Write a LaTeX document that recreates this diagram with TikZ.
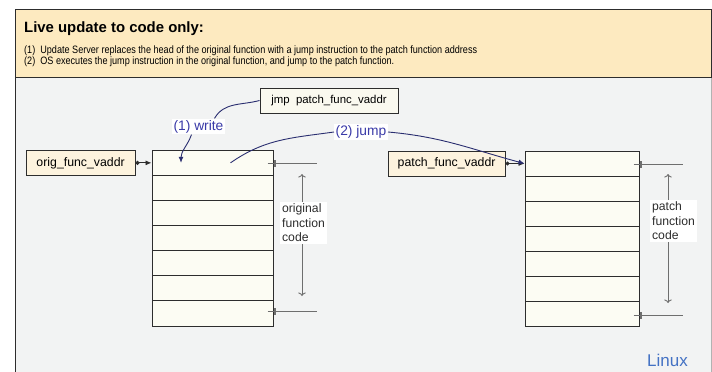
\documentclass[tikz,border=0pt]{standalone}
\usepackage{fontspec}
\setmainfont{Liberation Sans}
\newfontfamily\narrowsans[FakeStretch=0.85]{Liberation Sans}
\usetikzlibrary{positioning,arrows.meta}

\definecolor{bannerfill}{RGB}{253,234,192}
\definecolor{bodyfill}{RGB}{242,243,243}
\definecolor{framecol}{RGB}{45,45,45}
\definecolor{cellfill}{RGB}{252,252,243}
\definecolor{ptrfill}{RGB}{253,243,222}
\definecolor{jmpfill}{RGB}{250,249,239}
\definecolor{navyline}{RGB}{42,46,112}
\definecolor{labelblue}{RGB}{58,58,168}
\definecolor{linuxblue}{RGB}{68,114,196}
\definecolor{extentgray}{RGB}{110,110,110}

\tikzstyle{banner} = [draw=framecol, fill=bannerfill, line width=0.9pt, rectangle, inner sep=0pt]
\tikzstyle{bannertext} = [inner sep=0pt, font=\narrowsans\fontsize{10.7}{12}\selectfont]
\tikzstyle{cell} = [draw=framecol, fill=cellfill, line width=1pt, rectangle, minimum height=25.1pt, inner sep=0pt]
\tikzstyle{pointer} = [draw=framecol, fill=ptrfill, line width=0.8pt, rectangle, minimum height=25pt, inner sep=0pt, font=\fontsize{12.3}{14}\selectfont]
\tikzstyle{jmpbox} = [draw=framecol, fill=jmpfill, line width=0.9pt, rectangle, minimum width=138pt, minimum height=25pt, inner sep=0pt, font=\fontsize{11.4}{13}\selectfont]
\tikzstyle{steplabel} = [fill=white, text=labelblue, inner sep=1.5pt, font=\fontsize{13.8}{15}\selectfont]
\tikzstyle{sizelabel} = [fill=white, text=framecol, align=left, inner sep=2pt, font=\fontsize{12.2}{14.5}\selectfont]
\tikzstyle{extent} = [draw=extentgray, line width=0.9pt]
\tikzstyle{ptrarrow} = [draw=framecol, line width=0.9pt, {Circle[length=4pt]}-{Latex[length=6pt,width=5pt]}]
\tikzstyle{navyarrow} = [draw=navyline, line width=0.9pt, -{Latex[length=6pt,width=5pt]}]

\begin{document}
\begin{tikzpicture}[x=1pt, y=-1pt]
	\useasboundingbox (0,0) rectangle (712,372);
	% marco y cabecera
	\fill[bodyfill] (15,77) rectangle (711,372);
	\draw[framecol, line width=0.9pt] (15,372) -- (15,77) -- (711,77);
	\draw[gray!60, line width=0.9pt] (711,77) -- (711,372);
	\node[banner, minimum width=696pt, minimum height=68pt, anchor=north west] (banner) at (15,9) {};
	\node[inner sep=0pt, anchor=base west, font=\fontsize{14.9}{16}\selectfont\bfseries] (title) at (24,32) {Live update to code only:};
	\node[bannertext, anchor=base west] (paso1) at (24,53.5) {(1)\ \ Update Server replaces the head of the original function with a jump instruction to the patch function address};
	\node[bannertext, anchor=base west] (paso2) at (24,64.5) {(2)\ \ OS executes the jump instruction in the original function, and jump to the patch function.};

	% pilas de codigo
	\foreach \i in {0,...,6}{
		\node[cell, minimum width=121pt] (orig\i) at (212.5,{162.85+25.1*\i}) {};
		\node[cell, minimum width=114pt] (patch\i) at (582,{163.55+25.1*\i}) {};
	}

	% punteros
	\node[pointer, minimum width=109pt, left=16pt of orig0] (origptr) {orig\_func\_vaddr};
	\node[pointer, minimum width=117pt, left=19pt of patch0] (patchptr) {patch\_func\_vaddr};
	\draw[ptrarrow] (origptr) -- (orig0);
	\draw[ptrarrow] (patchptr) -- (patch0);

	% extension de cada funcion
	\coordinate (otop) at (316.7,163);
	\coordinate (obot) at (316.7,311);
	\coordinate (ptop) at (682.7,164);
	\coordinate (pbot) at (682.7,315);
	\draw[extent] ([xshift=-6pt]orig0.east |- otop) -- (otop);
	\draw[extent] ([xshift=-6pt]orig0.east |- obot) -- (obot);
	\draw[extent] ([xshift=-6pt]patch0.east |- ptop) -- (ptop);
	\draw[extent] ([xshift=-6pt]patch0.east |- pbot) -- (pbot);
	\foreach \c/\n in {otop/orig0, obot/orig0, ptop/patch0, pbot/patch0}{
		\draw[extent, line width=2pt] ([xshift=1pt,yshift=-3.5pt]\n.east |- \c) -- ([xshift=1pt,yshift=3.5pt]\n.east |- \c);
	}
	\coordinate (oup) at (302,174);
	\coordinate (odown) at (302,296);
	\coordinate (pup) at (668,174);
	\coordinate (pdown) at (668,303);
	\draw[extent, <->] (oup) -- (odown);
	\draw[extent, <->] (pup) -- (pdown);
	\node[sizelabel] (origlbl) at (303.5,223) {original\\function\\code};
	\node[sizelabel] (patchlbl) at (673.5,221) {patch\\function\\code};

	% escritura y salto
	\node[jmpbox] (jmp) at (329,100.5) {jmp\ \ patch\_func\_vaddr};
	\node[steplabel] (write) at (198.5,126.5) {(1) write};
	\node[steplabel] (jump) at (361,132) {(2) jump};
	\coordinate (writetip) at ([xshift=-31.5pt]orig0.center);
	\coordinate (jumpstart) at ([xshift=18pt]orig0.center);
	\draw[navyline, line width=0.9pt] (jmp.west) to[out=195, in=60] ([xshift=16pt]write.north);
	\draw[navyarrow] ([xshift=-7pt]write.south) to[out=250, in=90] (writetip);
	\draw[navyline, line width=0.9pt] (jumpstart) to[out=35, in=188] (jump.west);
	\draw[navyarrow] (jump.east) to[out=-5, in=165] (patch0.west);

	\node[text=linuxblue, inner sep=0pt, anchor=base west, font=\fontsize{17}{19}\selectfont] (linux) at (647,366) {Linux};
\end{tikzpicture}
\end{document}
